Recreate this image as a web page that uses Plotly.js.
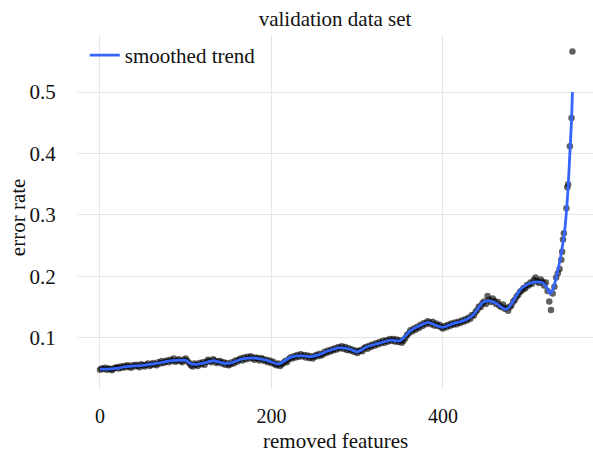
<!DOCTYPE html>
<html>
<head>
<meta charset="utf-8">
<script src="https://cdn.plot.ly/plotly-3.0.1.min.js"></script>
<style>html,body{margin:0;padding:0;background:#fff;}#chart{width:593px;height:452px;}</style>
</head>
<body>
<div id="chart"></div>
<script>
// observed error rate, one value every 2 removed features (x = 0, 2, ..., 536)
const pointErrEvery2 = [
0.048,0.050,0.049,0.051,0.048,0.050,0.049,0.047,0.050,0.051,
0.052,0.050,0.053,0.051,0.054,0.052,0.055,0.053,0.051,0.055,
0.053,0.056,0.054,0.052,0.057,0.055,0.053,0.056,0.058,0.054,
0.056,0.059,0.057,0.055,0.060,0.058,0.062,0.059,0.061,0.063,
0.060,0.064,0.062,0.066,0.061,0.063,0.065,0.062,0.060,0.064,
0.066,0.062,0.059,0.055,0.053,0.058,0.056,0.054,0.059,0.057,
0.060,0.056,0.061,0.064,0.062,0.060,0.065,0.063,0.059,0.061,
0.062,0.058,0.060,0.056,0.059,0.055,0.057,0.060,0.058,0.063,
0.061,0.064,0.066,0.063,0.068,0.065,0.069,0.066,0.070,0.067,
0.064,0.068,0.066,0.063,0.067,0.065,0.062,0.064,0.060,0.063,
0.059,0.061,0.057,0.055,0.058,0.054,0.057,0.059,0.062,0.060,
0.065,0.068,0.066,0.070,0.068,0.072,0.069,0.073,0.070,0.072,
0.068,0.071,0.067,0.070,0.066,0.069,0.072,0.070,0.074,0.071,
0.073,0.077,0.075,0.079,0.077,0.081,0.079,0.083,0.081,0.085,
0.083,0.086,0.082,0.085,0.080,0.083,0.079,0.081,0.077,0.079,
0.075,0.078,0.080,0.078,0.083,0.085,0.082,0.087,0.085,0.089,
0.087,0.091,0.089,0.093,0.091,0.095,0.092,0.096,0.094,0.098,
0.095,0.098,0.094,0.097,0.093,0.096,0.092,0.095,0.099,0.104,
0.107,0.112,0.110,0.115,0.113,0.118,0.116,0.121,0.119,0.124,
0.122,0.127,0.125,0.122,0.126,0.120,0.123,0.119,0.121,0.117,
0.115,0.119,0.117,0.121,0.119,0.123,0.121,0.125,0.122,0.126,
0.124,0.128,0.126,0.130,0.128,0.133,0.131,0.137,0.136,0.142,
0.145,0.151,0.150,0.156,0.159,0.155,0.168,0.162,0.158,0.164,
0.160,0.155,0.158,0.152,0.150,0.154,0.147,0.149,0.144,0.150,
0.153,0.159,0.162,0.167,0.170,0.175,0.177,0.181,0.180,0.186,
0.185,0.190,0.188,0.194,0.198,0.192,0.189,0.195,0.191,0.185,
0.190,0.176,0.159,0.145,0.172,0.183,0.198,0.205,0.212
];
// sparse tail of observed points
const tailFeatures = [538,539,540,541,544,545,546,548,550,551];
const tailErr = [0.227,0.240,0.260,0.270,0.311,0.345,0.350,0.412,0.458,0.566];

// smoothed trend
const smoothFeatures = [0,10,20,30,40,50,60,70,80,90,100,107,115,122,132,140,146,155,165,175,185,195,208,215,222,235,245,255,265,280,292,300,311,320,330,340,350,362,372,383,392,400,410,420,428,435,442,447,455,462,468,474,480,490,500,509,515,519,522,525,528,531,534,537,540,542,544,546,548,550,551];
const smoothErr = [0.049,0.049,0.050,0.053,0.054,0.055,0.057,0.059,0.062,0.063,0.063,0.057,0.057,0.059,0.0625,0.060,0.058,0.060,0.065,0.067,0.066,0.063,0.057,0.062,0.068,0.071,0.069,0.072,0.078,0.084,0.081,0.077,0.085,0.089,0.093,0.096,0.095,0.111,0.119,0.125,0.120,0.117,0.122,0.126,0.130,0.137,0.150,0.158,0.160,0.156,0.150,0.146,0.155,0.178,0.188,0.191,0.190,0.186,0.180,0.172,0.178,0.192,0.210,0.230,0.255,0.275,0.305,0.345,0.400,0.455,0.500];

const xTickVals = [0,200,400];
const xTickText = ['0','200','400'];
const yTickVals = [0.1,0.2,0.3,0.4,0.5];
const yTickText = ['0.1','0.2','0.3','0.4','0.5'];

const ptX = [], ptY = [];
pointErrEvery2.forEach((v,i)=>{ptX.push(i*2); ptY.push(v);});
tailFeatures.forEach((f,i)=>{ptX.push(f); ptY.push(tailErr[i]);});

const FONT = 'Liberation Serif, Times New Roman, serif';
const TXT = '#111111';

const traces = [
  {x: ptX, y: ptY, type:'scatter', mode:'markers', showlegend:false,
   marker:{size:6.5, color:'rgba(0,0,0,0.62)', line:{width:0}}, hoverinfo:'skip'},
  {x: smoothFeatures, y: smoothErr, type:'scatter', mode:'lines', name:'smoothed trend',
   line:{color:'#3366FF', width:2.8, shape:'spline', smoothing:0.6}}
];

const layout = {
  width:593, height:452,
  margin:{l:77, r:0, t:35, b:63, pad:0},
  paper_bgcolor:'#fff', plot_bgcolor:'#fff',
  font:{family:FONT, size:21, color:TXT},
  title:{text:'validation data set', font:{family:FONT, size:21, color:TXT},
         x:0.565, xref:'container', xanchor:'center', y:0.958, yref:'container', yanchor:'middle'},
  showlegend:true,
  legend:{x:0.015, xanchor:'left', y:1.0, yanchor:'top', bgcolor:'rgba(0,0,0,0)', borderwidth:0,
          font:{family:FONT, size:21, color:TXT}},
  xaxis:{range:[-26.8,575], tickvals:xTickVals, ticktext:xTickText, showgrid:true, gridcolor:'#e6e6e6', gridwidth:1,
         zeroline:false, showline:false, ticks:'outside', ticklen:9, tickcolor:'rgba(0,0,0,0)',
         tickfont:{family:FONT, size:20, color:TXT}},
  yaxis:{range:[0.0165,0.593], tickvals:yTickVals, ticktext:yTickText, showgrid:true, gridcolor:'#e6e6e6', gridwidth:1,
         zeroline:false, showline:false, ticks:'outside', ticklen:16, tickcolor:'rgba(0,0,0,0)',
         tickfont:{family:FONT, size:21, color:TXT}},
  annotations:[
    {text:'removed features', xref:'paper', yref:'paper', x:0.5, y:-0.1455, xanchor:'center', yanchor:'middle',
     height:20, borderpad:0, showarrow:false, font:{family:FONT, size:21, color:TXT}},
    {text:'error rate', xref:'paper', yref:'paper', x:-0.114, y:0.486, xanchor:'center', yanchor:'middle',
     textangle:-90, showarrow:false, font:{family:FONT, size:21, color:TXT}}
  ]
};

Plotly.newPlot('chart', traces, layout, {displayModeBar:false, staticPlot:true});
</script>
</body>
</html>
